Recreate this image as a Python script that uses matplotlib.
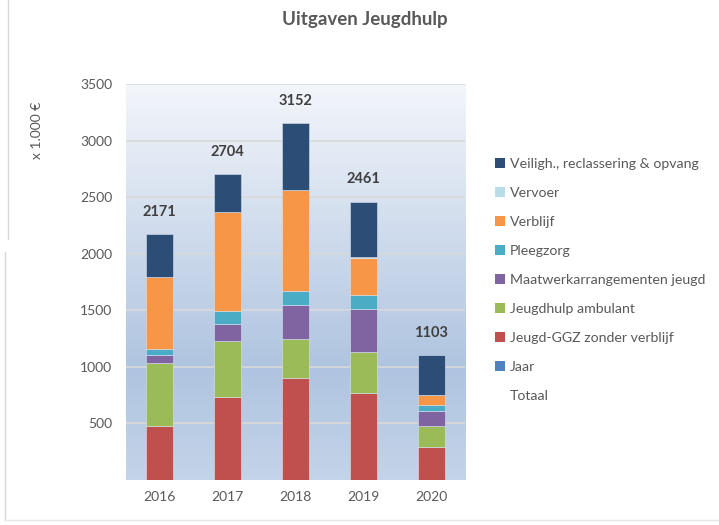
import matplotlib
matplotlib.use("Agg")
import matplotlib.pyplot as plt
from matplotlib.colors import LinearSegmentedColormap
from matplotlib.patches import Patch
from matplotlib.lines import Line2D
import numpy as np

plt.rcParams["font.family"] = ["Lato", "DejaVu Sans"]

# ---- data (x 1.000 euro) -----------------------------------------------------
years = ["2016", "2017", "2018", "2019", "2020"]
jaar = [0, 0, 0, 0, 0]
jeugd_ggz = [480, 734, 904, 772, 292]
ambulant = [557, 494, 339, 356, 185]
maatwerk = [71, 148, 307, 386, 134]
pleegzorg = [47, 118, 120, 118, 50]
verblijf = [642, 875, 890, 327, 93]
vervoer = [0, 0, 5, 15, 0]
veiligh = [374, 335, 587, 487, 349]

series = [
    ("Jaar", jaar, "#4f81bd"),
    ("Jeugd-GGZ zonder verblijf", jeugd_ggz, "#c0504d"),
    ("Jeugdhulp ambulant", ambulant, "#9bbb59"),
    ("Maatwerkarrangementen jeugd", maatwerk, "#8064a2"),
    ("Pleegzorg", pleegzorg, "#4bacc6"),
    ("Verblijf", verblijf, "#f79646"),
    ("Vervoer", vervoer, "#b7dee8"),
    ("Veiligh., reclassering & opvang", veiligh, "#2c4d75"),
]

GREY = "#595959"
DARK = "#404040"

fig = plt.figure(figsize=(7.19, 5.25), dpi=100)
ax = fig.add_axes([0.1752, 0.0857, 0.4715, 0.7543])

x = np.arange(len(years))
ax.set_xlim(-0.5, len(years) - 0.5)
ax.set_ylim(0, 3500)

# plot-area gradient
cmap = LinearSegmentedColormap.from_list(
    "bg", [(0.0, "#c4d4e9"), (0.28, "#afc4e0"), (1.0, "#f3f6fb")])
grad = np.linspace(0, 1, 256).reshape(-1, 1)
ax.imshow(grad, extent=[-0.5, len(years) - 0.5, 0, 3500], origin="lower",
          aspect="auto", cmap=cmap, zorder=0)

for yv in range(500, 3501, 500):
    ax.axhline(yv, color="#d9d9d9", lw=1.2, zorder=1)

bottom = np.zeros(len(years))
for name, vals, col in series:
    vals = np.array(vals, dtype=float)
    ax.bar(x, vals, 0.4, bottom=bottom, color=col, edgecolor="#dbe3ee",
           linewidth=0.4, zorder=2)
    bottom += vals

totals = bottom
for xi, t in zip(x, totals):
    ax.annotate(f"{int(round(t))}", (xi, t), xytext=(0, 16), textcoords="offset points",
                ha="center", va="center", fontsize=10.5, fontweight="bold", color=DARK)

ax.set_xticks(x, years)
ax.set_yticks(range(500, 3501, 500))
ax.tick_params(axis="both", length=0, labelsize=10, labelcolor=GREY)
ax.tick_params(axis="x", pad=8)
ax.tick_params(axis="y", pad=10)
for s in ax.spines.values():
    s.set_visible(False)

fig.text(0.051, 0.752, "x 1.000 €", rotation=90, ha="center", va="center",
         fontsize=10, color=GREY)
fig.text(0.508, 0.962, "Uitgaven Jeugdhulp", ha="center", va="center",
         fontsize=13.5, fontweight="bold", color=GREY)

handles = [Patch(facecolor=c, edgecolor="none") for _, _, c in series[::-1]]
labels = [n for n, _, _ in series[::-1]]
handles.append(Patch(facecolor="none", edgecolor="none"))
labels.append("Totaal")
leg = fig.legend(handles, labels, loc="upper left", bbox_to_anchor=(0.678, 0.713),
                 frameon=False, fontsize=10.2, handlelength=0.75, handleheight=0.75,
                 handletextpad=0.35, labelspacing=1.19, borderpad=0)
for t in leg.get_texts():
    t.set_color(GREY)

# outer chart border remnants
fig.add_artist(Line2D([0.011, 0.011], [0.545, 1.0], color="#d9d9d9", lw=1))
fig.add_artist(Line2D([0.007, 0.007], [0.01, 0.52], color="#d9d9d9", lw=1))
fig.add_artist(Line2D([0.007, 1.0], [0.01, 0.01], color="#e6e6e6", lw=1))

fig.savefig("out.png", dpi=100)
